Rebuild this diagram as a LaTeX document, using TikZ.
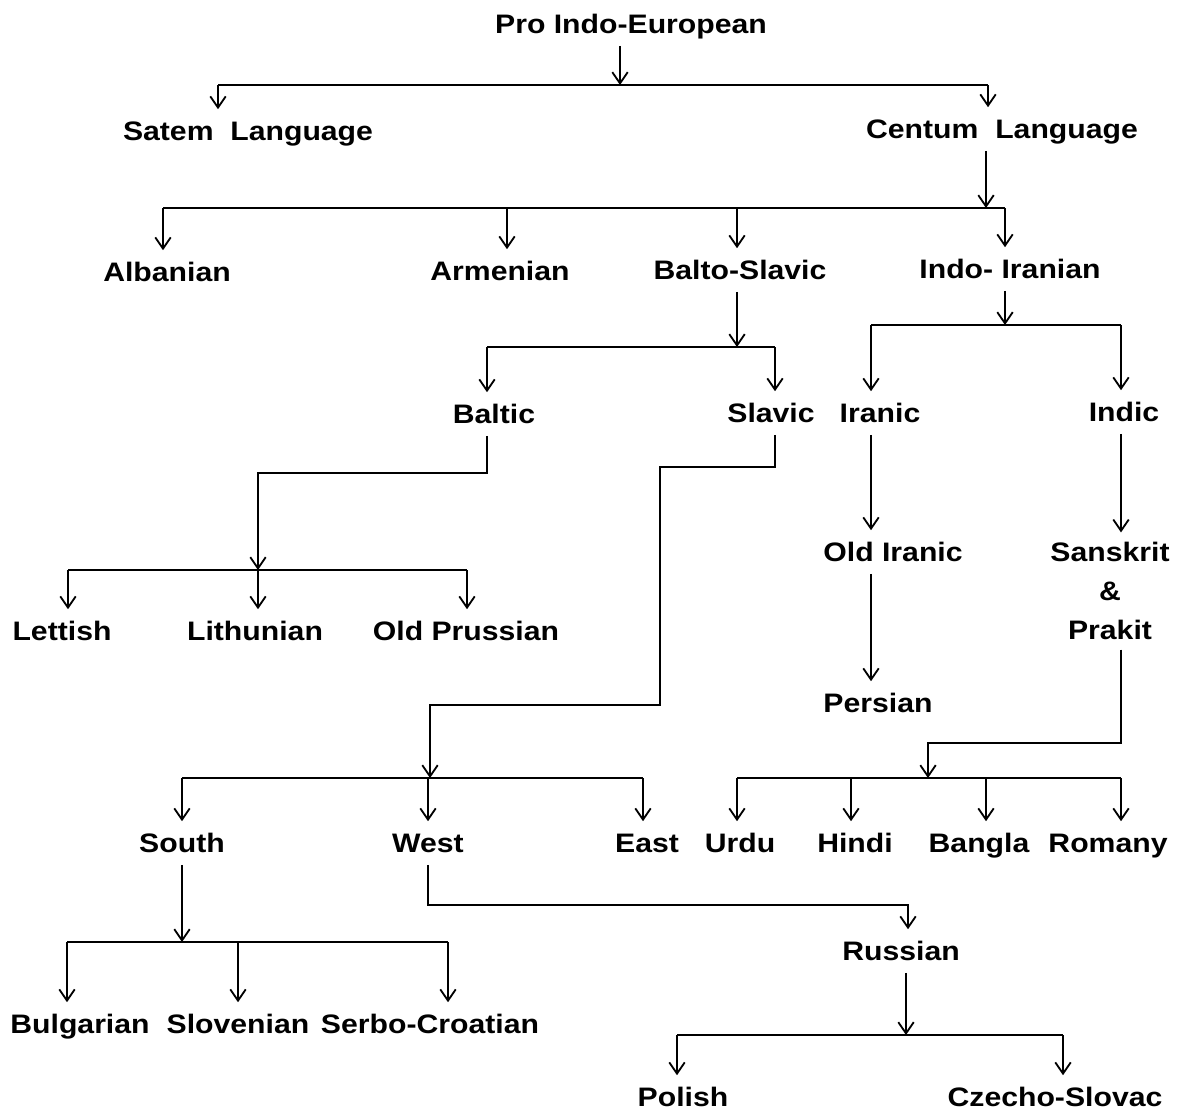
\documentclass[tikz,border=0pt]{standalone}
\usepackage{fontspec}
\newfontfamily\langfont[FakeStretch=1.13]{Liberation Sans}
\usetikzlibrary{arrows.meta, positioning}
\tikzset{
  langbase/.style={font=\langfont\bfseries\fontsize{19}{27.7}\selectfont, inner sep=0, outer ysep=7pt},
  lang/.style={langbase, text height=15pt, text depth=2pt},
  langblock/.style={langbase, align=center},
  link/.style={-{Straight Barb[length=8pt, width=11pt]}, line width=1.3pt},
  bus/.style={line width=1.6pt}
}

\begin{document}
\begin{tikzpicture}[x=0.025cm, y=-0.025cm]
    \useasboundingbox (0,0) rectangle (1187,1112);
    % languages
    \node[lang] (pie) at (631,24) {Pro Indo-European};
    \node[lang] (satem) at (248,131) {Satem\ \ Language};
    \node[lang] (centum) at (1002,129) {Centum\ \ Language};
    \node[lang] (albanian) at (167,272) {Albanian};
    \node[lang] (armenian) at (500,271) {Armenian};
    \node[lang] (baltoslavic) at (740,270) {Balto-Slavic};
    \node[lang] (indoiranian) at (1010,269) {Indo- Iranian};
    \node[lang] (baltic) at (494,414) {Baltic};
    \node[lang] (slavic) at (771,413) {Slavic};
    \node[lang] (iranic) at (880,413) {Iranic};
    \node[lang] (indic) at (1124,412) {Indic};
    \node[lang] (lettish) at (62,631) {Lettish};
    \node[lang] (lithunian) at (255,631) {Lithunian};
    \node[lang] (oldprussian) at (466,631) {Old Prussian};
    \node[lang] (oldiranic) at (893,552) {Old Iranic};
    \node[langblock] (sanskrit) at (1110,591) {Sanskrit\\\&\\Prakit};
    \node[lang] (persian) at (878,703) {Persian};
    \node[lang] (south) at (182,843) {South};
    \node[lang] (west) at (428,843) {West};
    \node[lang] (east) at (647,843) {East};
    \node[lang] (urdu) at (740,843) {Urdu};
    \node[lang] (hindi) at (855,843) {Hindi};
    \node[lang] (bangla) at (979,843) {Bangla};
    \node[lang] (romany) at (1108,843) {Romany};
    \node[lang] (russian) at (901,951) {Russian};
    \node[lang] (bulgarian) at (80,1024) {Bulgarian};
    \node[lang] (slovenian) at (238,1024) {Slovenian};
    \node[lang] (serbo) at (430,1024) {Serbo-Croatian};
    \node[lang] (polish) at (683,1097) {Polish};
    \node[lang] (czecho) at (1055,1097) {Czecho-Slovac};
    % bus rows
    \coordinate (row1) at (0,85);
    \coordinate (row2) at (0,208);
    \coordinate (row3) at (0,347);
    \coordinate (row4) at (0,325);
    \coordinate (row5) at (0,570);
    \coordinate (row6) at (0,778);
    \coordinate (row7) at (0,942);
    \coordinate (row8) at (0,1035);
    % Pro Indo-European
    \draw[link] (620,0 |- pie.south) -- (620,0 |- row1);
    \draw[bus] (218,0 |- row1) -- (988,0 |- row1);
    \foreach \n/\x in {satem/218, centum/988}
      \draw[link] (\x,0 |- row1) -- (\x,0 |- \n.north);
    % Centum
    \draw[link] (986,0 |- centum.south) -- (986,0 |- row2);
    \draw[bus] (163,0 |- row2) -- (1005,0 |- row2);
    \foreach \n/\x in {albanian/163, armenian/507, baltoslavic/737, indoiranian/1005}
      \draw[link] (\x,0 |- row2) -- (\x,0 |- \n.north);
    % Balto-Slavic
    \draw[link] (737,0 |- baltoslavic.south) -- (737,0 |- row3);
    \draw[bus] (487,0 |- row3) -- (775,0 |- row3);
    \foreach \n/\x in {baltic/487, slavic/775}
      \draw[link] (\x,0 |- row3) -- (\x,0 |- \n.north);
    % Indo-Iranian
    \draw[link] (1005,0 |- indoiranian.south) -- (1005,0 |- row4);
    \draw[bus] (871,0 |- row4) -- (1121,0 |- row4);
    \foreach \n/\x in {iranic/871, indic/1121}
      \draw[link] (\x,0 |- row4) -- (\x,0 |- \n.north);
    % Baltic
    \draw[link] (487,0 |- baltic.south) |- (258,473) -- (258,0 |- row5);
    \draw[bus] (68,0 |- row5) -- (467,0 |- row5);
    \foreach \n/\x in {lettish/68, lithunian/258, oldprussian/467}
      \draw[link] (\x,0 |- row5) -- (\x,0 |- \n.north);
    % Slavic
    \draw[link] (775,0 |- slavic.south) |- (660,467) |- (430,705) -- (430,0 |- row6);
    \draw[bus] (182,0 |- row6) -- (643,0 |- row6);
    \foreach \n/\x in {south/182, west/428, east/643}
      \draw[link] (\x,0 |- row6) -- (\x,0 |- \n.north);
    % Iranic and Indic
    \draw[link] (871,0 |- iranic.south) -- (871,0 |- oldiranic.north);
    \draw[link] (871,0 |- oldiranic.south) -- (871,0 |- persian.north);
    \draw[link] (1121,0 |- indic.south) -- (1121,0 |- sanskrit.north);
    \draw[link] (1121,0 |- sanskrit.south) |- (928,743) -- (928,0 |- row6);
    \draw[bus] (737,0 |- row6) -- (1121,0 |- row6);
    \foreach \n/\x in {urdu/737, hindi/851, bangla/986, romany/1121}
      \draw[link] (\x,0 |- row6) -- (\x,0 |- \n.north);
    % South
    \draw[link] (182,0 |- south.south) -- (182,0 |- row7);
    \draw[bus] (67,0 |- row7) -- (448,0 |- row7);
    \foreach \n/\x in {bulgarian/67, slovenian/238, serbo/448}
      \draw[link] (\x,0 |- row7) -- (\x,0 |- \n.north);
    % West
    \draw[link] (428,0 |- west.south) |- (908,905) -- (908,0 |- russian.north);
    \draw[link] (906,0 |- russian.south) -- (906,0 |- row8);
    \draw[bus] (677,0 |- row8) -- (1063,0 |- row8);
    \foreach \n/\x in {polish/677, czecho/1063}
      \draw[link] (\x,0 |- row8) -- (\x,0 |- \n.north);
\end{tikzpicture}
\end{document}
